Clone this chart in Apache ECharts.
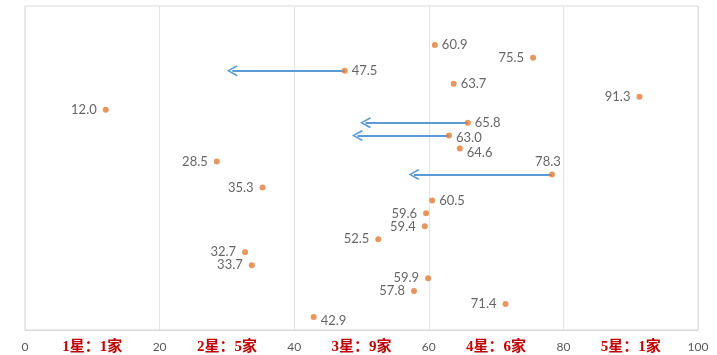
<!DOCTYPE html>
<html>
<head>
<meta charset="utf-8">
<script src="https://cdn.jsdelivr.net/npm/echarts@6/dist/echarts.min.js"></script>
<style>
  html, body { margin: 0; padding: 0; background: #fff; }
  #main { width: 717px; height: 355px; }
</style>
</head>
<body>
<div id="main"></div>
<script>
// 各家得分（自上而下）
var scores = [60.9, 75.5, 47.5, 63.7, 91.3, 12.0, 65.8, 63.0, 64.6, 28.5, 78.3,
              35.3, 60.5, 59.6, 59.4, 52.5, 32.7, 33.7, 59.9, 57.8, 71.4, 42.9];
// 标签放在点的哪一侧
var labelSide = ['right', 'left', 'right', 'right', 'left', 'left', 'right', 'right', 'right', 'left', 'top',
                 'left', 'right', 'left', 'left', 'left', 'left', 'left', 'left', 'left', 'left', 'right'];
// 箭头：起点行号 -> 目标分数
var arrowRows = [2, 6, 7, 10];
var arrowTargets = [30.8, 50.6, 49.4, 57.8];
// x 轴刻度与星级标签
var tickLabels = ['0', '20', '40', '60', '80', '100'];
var starLabels = ['1星：1家', '2星：5家', '3星：9家', '4星：6家', '5星：1家'];

var rowCount = scores.length;
function rowY(i) { return rowCount - i; }

var scatterData = scores.map(function(v, i) {
  var side = labelSide[i];
  var lab = { position: side, distance: side == 'left' ? 6 : 4 };
  if (i == 7) lab.offset = [0, 2];
  if (i == 8) lab.offset = [0, 4];
  if (i == 21) lab.offset = [0, 4];
  if (side == 'top') { lab.offset = [-4, 0]; lab.distance = 3; }
  return { value: [v, rowY(i)], label: lab };
});

var arrowData = arrowRows.map(function(r, k) {
  return { coords: [[scores[r], rowY(r)], [arrowTargets[k], rowY(r)]] };
});

var chevron = 'path://M5,0 L10,8 L8.8,9 L5,2.4 L1.2,9 L0,8 Z';

var option = {
  backgroundColor: '#fff',
  animation: false,
  grid: { left: 25, right: 19, top: 6, bottom: 24, show: true, borderColor: '#d9d9d9', borderWidth: 1 },
  xAxis: [{
    type: 'value', min: 0, max: 100, interval: 20,
    axisLine: { show: true, lineStyle: { color: '#d9d9d9' } },
    axisTick: { show: false },
    splitLine: { show: true, lineStyle: { color: '#e3e3e3' } },
    axisLabel: {
      margin: 11, color: '#595959', fontSize: 12, fontFamily: 'Lato',
      formatter: function(v) { var k = tickLabels.indexOf(String(v)); return k >= 0 ? tickLabels[k] : ''; }
    }
  }, {
    type: 'value', min: 0, max: 100, interval: 10, position: 'bottom',
    axisLine: { show: false }, axisTick: { show: false }, splitLine: { show: false },
    axisLabel: {
      margin: 10, color: '#c00000', fontSize: 15, fontWeight: 'bold',
      fontFamily: '"Liberation Serif", "Noto Sans CJK SC"',
      showMinLabel: false, showMaxLabel: false,
      formatter: function(v) {
        if (v % 20 == 10) return starLabels[(v - 10) / 20];
        return '';
      }
    }
  }],
  yAxis: {
    type: 'value', min: 0, max: rowCount + 3,
    axisLine: { show: false }, axisTick: { show: false },
    axisLabel: { show: false }, splitLine: { show: false }
  },
  series: [{
    type: 'lines',
    coordinateSystem: 'cartesian2d',
    data: arrowData,
    symbol: ['none', chevron],
    symbolSize: [0, 11],
    lineStyle: { color: '#5b9bd5', width: 2, opacity: 1 },
    itemStyle: { color: '#5b9bd5' },
    z: 2
  }, {
    type: 'scatter',
    data: scatterData,
    symbolSize: 6,
    itemStyle: { color: '#e27c36' },
    label: {
      show: true, color: '#404040', fontSize: 13, fontFamily: 'Lato',
      formatter: function(p) { return p.value[0].toFixed(1); }
    },
    z: 3
  }]
};

var myChart = echarts.init(document.getElementById('main'));
myChart.setOption(option);
</script>
</body>
</html>
